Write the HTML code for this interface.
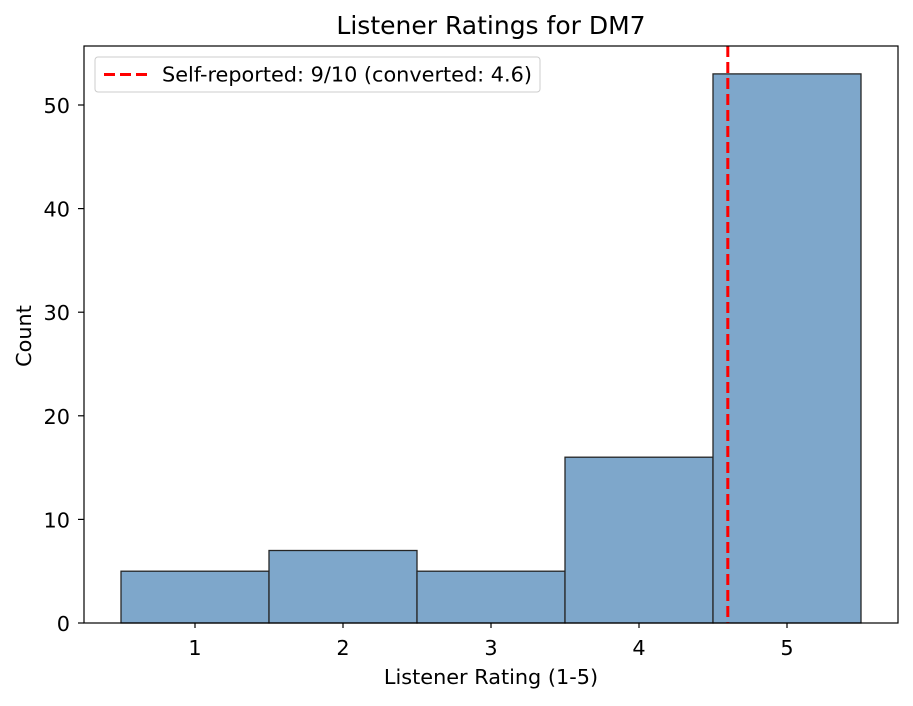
<!DOCTYPE html>
<html><head><style>body{margin:0;background:#fff}</style></head><body>
<svg width="913" height="701" xmlns="http://www.w3.org/2000/svg" font-family="'DejaVu Sans', 'Liberation Sans', sans-serif">
<rect width="913" height="701" fill="#fff"/>
<g fill="#7ea7cb" stroke="#262626" stroke-width="1.3">
<rect x="121" y="571.2" width="148" height="51.8"/>
<rect x="269" y="550.5" width="148" height="72.5"/>
<rect x="417" y="571.2" width="148" height="51.8"/>
<rect x="565" y="457.2" width="148" height="165.8"/>
<rect x="713" y="73.9" width="148" height="549.1"/>
</g>
<line x1="727.8" y1="46" x2="727.8" y2="623" stroke="#f00" stroke-width="3" stroke-dasharray="11,5"/>
<rect x="84" y="46" width="814" height="577" fill="none" stroke="#000" stroke-width="1.2"/>
<g stroke="#000" stroke-width="1.2">
<line x1="195" y1="623" x2="195" y2="628"/><line x1="343" y1="623" x2="343" y2="628"/><line x1="491" y1="623" x2="491" y2="628"/><line x1="639" y1="623" x2="639" y2="628"/><line x1="787" y1="623" x2="787" y2="628"/>
<line x1="78" y1="623" x2="84" y2="623"/><line x1="78" y1="519.4" x2="84" y2="519.4"/><line x1="78" y1="415.8" x2="84" y2="415.8"/><line x1="78" y1="312.2" x2="84" y2="312.2"/><line x1="78" y1="208.6" x2="84" y2="208.6"/><line x1="78" y1="105" x2="84" y2="105"/>
</g>
<g font-size="20.8" text-anchor="middle">
<text x="195" y="655">1</text><text x="343" y="655">2</text><text x="491" y="655">3</text><text x="639" y="655">4</text><text x="787" y="655">5</text>
</g>
<g font-size="20.8" text-anchor="end">
<text x="70" y="631">0</text><text x="70" y="527.4">10</text><text x="70" y="423.8">20</text><text x="70" y="320.2">30</text><text x="70" y="216.6">40</text><text x="70" y="113">50</text>
</g>
<text x="491" y="684" font-size="20.8" text-anchor="middle">Listener Rating (1-5)</text>
<text x="31" y="336" font-size="20.8" text-anchor="middle" transform="rotate(-90 31 336)">Count</text>
<text x="491" y="34" font-size="25" text-anchor="middle">Listener Ratings for DM7</text>
<rect x="95" y="57" width="445" height="35" rx="3" fill="#fff" fill-opacity="0.8" stroke="#ccc"/>
<line x1="104" y1="74.5" x2="148" y2="74.5" stroke="#f00" stroke-width="3" stroke-dasharray="11,5"/>
<text x="162" y="81.5" font-size="20.8">Self-reported: 9/10 (converted: 4.6)</text>
</svg>
</body></html>
